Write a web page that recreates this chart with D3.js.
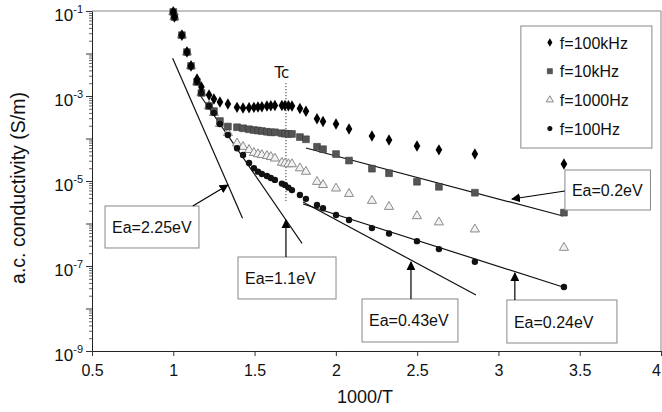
<!DOCTYPE html>
<html><head><meta charset="utf-8">
<script src="https://cdn.jsdelivr.net/npm/d3@7"></script>
<style>
body{margin:0;background:#fff}
text{font-family:Arial,"Liberation Sans",sans-serif;fill:#111}
</style>
</head><body>
<svg id="c" width="662" height="412"></svg>
<script>
// ---- data ----
const invT = [1.0, 1.007, 1.053, 1.084, 1.109, 1.146, 1.173, 1.22, 1.25, 1.287, 1.336, 1.392, 1.429, 1.466, 1.496, 1.521, 1.545, 1.576, 1.6, 1.625, 1.668, 1.687, 1.708, 1.73, 1.779, 1.816, 1.884, 1.921, 2.001, 2.081, 2.222, 2.327, 2.499, 2.634, 2.855, 3.403];
const f100kHz = [9.5e-2, 7.2e-2, 2.7e-2, 1.08e-2, 5.1e-3, 2.5e-3, 1.63e-3, 1.06e-3, 8.5e-4, 7.2e-4, 6.5e-4, 5.4e-4, 5.2e-4, 5.3e-4, 5.4e-4, 5.5e-4, 5.6e-4, 5.8e-4, 5.9e-4, 6.0e-4, 6.0e-4, 6.0e-4, 5.9e-4, 5.8e-4, 5.1e-4, 4.4e-4, 2.9e-4, 2.5e-4, 2.2e-4, 1.67e-4, 1.15e-4, 9.2e-5, 6.7e-5, 5.4e-5, 4.3e-5, 2.5e-5];
const f10kHz = [9.5e-2, 7.2e-2, 2.7e-2, 1.08e-2, 5.1e-3, 2.13e-3, 1.18e-3, 5.8e-4, 4.4e-4, 2.58e-4, 1.91e-4, 1.84e-4, 1.74e-4, 1.65e-4, 1.58e-4, 1.54e-4, 1.5e-4, 1.44e-4, 1.4e-4, 1.4e-4, 1.33e-4, 1.3e-4, 1.28e-4, 1.28e-4, 1.08e-4, 9.6e-5, 6.4e-5, 5.6e-5, 4.3e-5, 3.03e-5, 1.95e-5, 1.52e-5, 9.6e-6, 7.3e-6, 5.3e-6, 1.8e-6];
const f1000Hz = [9.5e-2, 7.2e-2, 2.7e-2, 1.08e-2, 5.1e-3, 2.13e-3, 1.18e-3, 5.8e-4, 4.0e-4, 2.2e-4, 1.35e-4, 7.7e-5, 6.4e-5, 5.4e-5, 4.6e-5, 4.3e-5, 4.1e-5, 3.9e-5, 3.7e-5, 3.4e-5, 2.7e-5, 2.6e-5, 2.5e-5, 2.5e-5, 2.0e-5, 1.66e-5, 9.6e-6, 8.1e-6, 6.7e-6, 5.0e-6, 3.44e-6, 2.48e-6, 1.5e-6, 1.07e-6, 7.3e-7, 2.7e-7];
const f100Hz = [9.5e-2, 7.2e-2, 2.7e-2, 1.08e-2, 5.1e-3, 2.13e-3, 1.18e-3, 5.8e-4, 4.0e-4, 2.2e-4, 1.21e-4, 5.9e-5, 4.1e-5, 2.65e-5, 2.0e-5, 1.66e-5, 1.46e-5, 1.31e-5, 1.18e-5, 1.06e-5, 8.7e-6, 8.1e-6, 7.0e-6, 6.1e-6, 4.7e-6, 3.8e-6, 2.72e-6, 2.28e-6, 1.58e-6, 1.21e-6, 7.8e-7, 5.8e-7, 3.84e-7, 2.5e-7, 1.26e-7, 3.2e-8];
const seriesNames = ["f=100kHz", "f=10kHz", "f=1000Hz", "f=100Hz"];
const xTicks = [0.5, 1, 1.5, 2, 2.5, 3, 3.5, 4];
const yLabelExps = [-1, -3, -5, -7, -9];
const Tc = 1.693;
// fitted Arrhenius lines: [x1, log10 y1, x2, log10 y2]
const fitLines = [
  [0.996, -2.113, 1.426, -5.878],   // 2.25 eV
  [1.164, -2.976, 1.792, -6.466],   // 1.1 eV
  [1.816, -4.224, 3.397, -5.824],   // 0.2 eV
  [1.798, -5.494, 2.862, -7.682],   // 0.43 eV
  [1.798, -5.541, 3.397, -7.494]    // 0.24 eV
];
// callouts: label, box [x0, ly0, x1, ly1], arrow [xFrom, lyFrom, xTo, lyTo]
const callouts = [
  {label: "Ea=2.25eV", box: [0.580, -5.588, 1.158, -6.576], arrow: [1.12, -5.588, 1.336, -5.094]},
  {label: "Ea=1.1eV",  box: [1.398, -6.788, 2.001, -7.776], arrow: [1.693, -6.788, 1.693, -5.918]},
  {label: "Ea=0.43eV", box: [2.161, -7.776, 2.751, -8.788], arrow: [2.462, -7.776, 2.462, -6.906]},
  {label: "Ea=0.24eV", box: [3.052, -7.800, 3.729, -8.812], arrow: [3.101, -7.800, 3.101, -7.165]},
  {label: "Ea=0.2eV",  box: [3.409, -4.741, 3.935, -5.682], arrow: [3.409, -5.235, 3.083, -5.424]}
];
// legend box [x0, ly0, x1, ly1]
const legendBox = [3.138, -1.353, 3.944, -4.224];

// ---- chart ----
const svg = d3.select("#c");
const L = 92, R = 661, T = 11, B = 351;
const x = d3.scaleLinear().domain([0.5, 4]).range([L, R]);
const y = d3.scaleLog().domain([1e-9, 1e-1]).range([B, T]);
const ly = e => y(Math.pow(10, e));

// frame
svg.append("line").attr("x1", L).attr("x2", R).attr("y1", T).attr("y2", T).attr("stroke", "#888");
svg.append("line").attr("x1", R).attr("x2", R).attr("y1", T).attr("y2", B).attr("stroke", "#888");

// y axis ticks
const decades = d3.range(-9, 0).map(e => Math.pow(10, e));
const minors = [];
d3.range(-9, -1).forEach(e => { for (let k = 2; k <= 9; k++) minors.push(k * Math.pow(10, e)); });
svg.append("g").attr("transform", `translate(${L},0)`)
  .call(d3.axisLeft(y).tickValues(minors).tickSize(3).tickFormat(""))
  .call(g => g.select(".domain").remove())
  .call(g => g.selectAll("line").attr("stroke", "#666"));
svg.append("g").attr("transform", `translate(${L},0)`)
  .call(d3.axisLeft(y).tickValues(decades.concat([1e-1])).tickSize(6).tickSizeOuter(0).tickFormat(""))
  .call(g => g.select(".domain").attr("stroke", "#222"))
  .call(g => g.selectAll("line").attr("stroke", "#333"));
yLabelExps.forEach(e => {
  const t = svg.append("text").attr("x", 83).attr("y", y(Math.pow(10, e)) + 10)
    .attr("text-anchor", "end").style("font-size", "17px");
  t.append("tspan").text("10");
  t.append("tspan").attr("dy", -8).style("font-size", "11px").text(String(e));
});

// x axis
svg.append("g").attr("transform", `translate(0,${B})`)
  .call(d3.axisBottom(x).tickValues(xTicks).tickSize(5).tickSizeOuter(0).tickFormat(d => String(d)))
  .call(g => g.select(".domain").attr("stroke", "#222"))
  .call(g => g.selectAll("line").attr("stroke", "#333"))
  .call(g => g.selectAll("text").attr("dy", "1.05em").style("font-size", "16px").attr("fill", "#111"))
  .call(g => g.selectAll("text").filter(d => d === 4).attr("text-anchor", "end").attr("dx", -0.5));

// axis titles
svg.append("text").attr("x", 365).attr("y", 403).attr("text-anchor", "middle")
  .style("font-size", "18px").text("1000/T");
svg.append("text").attr("transform", "translate(25,188) rotate(-90)").attr("text-anchor", "middle")
  .style("font-size", "19.5px").text("a.c. conductivity (S/m)");

// Tc
svg.append("line").attr("x1", x(Tc)).attr("x2", x(Tc)).attr("y1", 83).attr("y2", ly(-5.47))
  .attr("stroke", "#333").attr("stroke-dasharray", "1.2,1.8").attr("stroke-width", 1);
svg.append("text").attr("x", x(Tc) - 4).attr("y", 78).attr("text-anchor", "middle")
  .style("font-size", "15px").style("font-family", "'DejaVu Sans',sans-serif").attr("fill", "#333").text("Tc");

// markers
const sym = {
  diamond: (s) => d3.symbol().type(d3.symbolDiamond).size(s)(),
  square: (s) => d3.symbol().type(d3.symbolSquare).size(s)(),
  triangle: (s) => d3.symbol().type(d3.symbolTriangle).size(s)(),
  circle: (s) => d3.symbol().type(d3.symbolCircle).size(s)()
};
const styles = [
  {key: "diamond", fill: "#000", stroke: "none", sw: 0, size: 38, lsize: 22},
  {key: "square", fill: "#555", stroke: "#3a3a3a", sw: 0.6, size: 46, lsize: 26},
  {key: "triangle", fill: "#f2f2f2", stroke: "#8a8a8a", sw: 1, size: 36, lsize: 22},
  {key: "circle", fill: "#111", stroke: "none", sw: 0, size: 32, lsize: 20}
];
const series = [f100kHz, f10kHz, f1000Hz, f100Hz];

// fit lines
const lineG = svg.append("g");
fitLines.forEach(l => {
  lineG.append("line").attr("x1", x(l[0])).attr("y1", ly(l[1])).attr("x2", x(l[2])).attr("y2", ly(l[3]))
    .attr("stroke", "#111").attr("stroke-width", 1.2);
});

[2, 1, 3, 0].forEach(i => {
  const st = styles[i];
  svg.append("g").selectAll("path").data(invT.map((t, j) => [t, series[i][j]])).join("path")
    .attr("d", sym[st.key](st.size))
    .attr("transform", d => `translate(${x(d[0])},${y(d[1])})`)
    .attr("fill", st.fill).attr("stroke", st.stroke).attr("stroke-width", st.sw);
});

// callouts
svg.append("defs").append("marker").attr("id", "ah").attr("viewBox", "0 0 10 10")
  .attr("refX", 9).attr("refY", 5).attr("markerWidth", 9).attr("markerHeight", 9)
  .attr("markerUnits", "userSpaceOnUse").attr("orient", "auto")
  .append("path").attr("d", "M0,0 L10,5 L0,10 z").attr("fill", "#000");
callouts.forEach(c => {
  const bx0 = x(c.box[0]), by0 = ly(c.box[1]), bx1 = x(c.box[2]), by1 = ly(c.box[3]);
  svg.append("rect").attr("x", bx0).attr("y", by0).attr("width", bx1 - bx0).attr("height", by1 - by0)
    .attr("fill", "#fff").attr("stroke", "#888").attr("stroke-width", 1);
  svg.append("text").attr("x", bx0 + 7).attr("y", (by0 + by1) / 2 + 6)
    .style("font-size", "16px").text(c.label);
  svg.append("line").attr("x1", x(c.arrow[0])).attr("y1", ly(c.arrow[1]))
    .attr("x2", x(c.arrow[2])).attr("y2", ly(c.arrow[3]))
    .attr("stroke", "#000").attr("stroke-width", 1.2).attr("marker-end", "url(#ah)");
});

// legend
const lg = svg.append("g");
const lx0 = x(legendBox[0]), ly0 = ly(legendBox[1]), lx1 = x(legendBox[2]), ly1 = ly(legendBox[3]);
lg.append("rect").attr("x", lx0).attr("y", ly0).attr("width", lx1 - lx0).attr("height", ly1 - ly0)
  .attr("fill", "#fff").attr("stroke", "#888");
seriesNames.forEach((n, i) => {
  const yy = ly0 + 16.5 + i * 28.7;
  const st = styles[i];
  lg.append("path").attr("d", sym[st.key](st.lsize)).attr("transform", `translate(${lx0 + 29},${yy})`)
    .attr("fill", st.fill).attr("stroke", st.stroke).attr("stroke-width", st.sw);
  lg.append("text").attr("x", lx0 + 39).attr("y", yy + 6).style("font-size", "16px").text(n);
});
</script>
</body></html>
